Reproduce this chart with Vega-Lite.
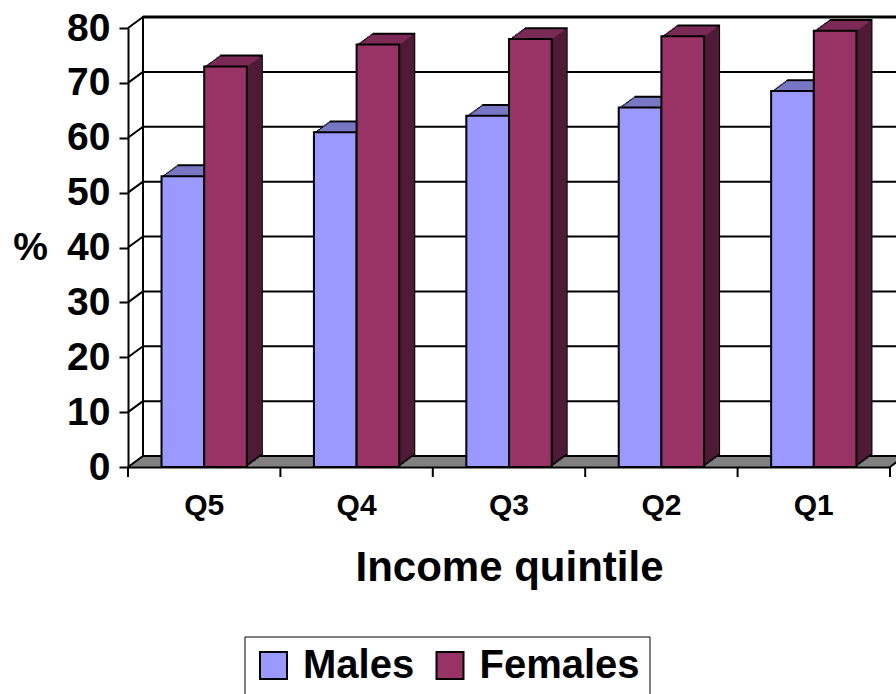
{
"$schema": "https://vega.github.io/schema/vega-lite/v6.json",
"width": 762, "height": 439,
"autosize": {"type": "none"},
"padding": {"left": 128, "top": 28, "right": 6, "bottom": 227},
"config": {"font": "Liberation Sans", "view": {"stroke": null}},
"resolve": {"axis": {"x": "independent", "y": "independent"}},
"datasets": {
 "bars": [
  {"quintile": "Q5", "series": "Males", "value": 53},
  {"quintile": "Q5", "series": "Females", "value": 73},
  {"quintile": "Q4", "series": "Males", "value": 61},
  {"quintile": "Q4", "series": "Females", "value": 77},
  {"quintile": "Q3", "series": "Males", "value": 64},
  {"quintile": "Q3", "series": "Females", "value": 78},
  {"quintile": "Q2", "series": "Males", "value": 65.5},
  {"quintile": "Q2", "series": "Females", "value": 78.5},
  {"quintile": "Q1", "series": "Males", "value": 68.5},
  {"quintile": "Q1", "series": "Females", "value": 79.5}
 ],
 "levels": [{"v": 0},{"v": 10},{"v": 20},{"v": 30},{"v": 40},{"v": 50},{"v": 60},{"v": 70},{"v": 80}],
 "floor": [{"v": 0}],
 "cats": [{"quintile": "Q5"},{"quintile": "Q4"},{"quintile": "Q3"},{"quintile": "Q2"},{"quintile": "Q1"}]
},
"layer": [
 {"data": {"name": "floor"}, "mark": {"type": "rule", "color": "#808080", "strokeWidth": 1.6, "xOffset": 0, "x2Offset": 0, "yOffset": 0},
  "encoding": {"x": {"datum": "Q5", "bandPosition": -0.3929, "scale": {"type": "band", "domain": ["Q5","Q4","Q3","Q2","Q1"], "paddingInner": 0.44, "paddingOuter": 0.22}, "axis": null},
   "x2": {"datum": "Q1", "bandPosition": 1.3929}, "y": {"field": "v", "type": "quantitative", "axis": null}}},
 {"data": {"name": "floor"}, "mark": {"type": "rule", "color": "#808080", "strokeWidth": 1.6, "xOffset": 1.5, "x2Offset": 1.5, "yOffset": -1.1},
  "encoding": {"x": {"datum": "Q5", "bandPosition": -0.3929, "axis": null}, "x2": {"datum": "Q1", "bandPosition": 1.3929}, "y": {"field": "v", "type": "quantitative", "axis": null}}},
 {"data": {"name": "floor"}, "mark": {"type": "rule", "color": "#808080", "strokeWidth": 1.6, "xOffset": 3, "x2Offset": 3, "yOffset": -2.2},
  "encoding": {"x": {"datum": "Q5", "bandPosition": -0.3929, "axis": null}, "x2": {"datum": "Q1", "bandPosition": 1.3929}, "y": {"field": "v", "type": "quantitative", "axis": null}}},
 {"data": {"name": "floor"}, "mark": {"type": "rule", "color": "#808080", "strokeWidth": 1.6, "xOffset": 4.5, "x2Offset": 4.5, "yOffset": -3.3},
  "encoding": {"x": {"datum": "Q5", "bandPosition": -0.3929, "axis": null}, "x2": {"datum": "Q1", "bandPosition": 1.3929}, "y": {"field": "v", "type": "quantitative", "axis": null}}},
 {"data": {"name": "floor"}, "mark": {"type": "rule", "color": "#808080", "strokeWidth": 1.6, "xOffset": 6, "x2Offset": 6, "yOffset": -4.4},
  "encoding": {"x": {"datum": "Q5", "bandPosition": -0.3929, "axis": null}, "x2": {"datum": "Q1", "bandPosition": 1.3929}, "y": {"field": "v", "type": "quantitative", "axis": null}}},
 {"data": {"name": "floor"}, "mark": {"type": "rule", "color": "#808080", "strokeWidth": 1.6, "xOffset": 7.5, "x2Offset": 7.5, "yOffset": -5.5},
  "encoding": {"x": {"datum": "Q5", "bandPosition": -0.3929, "axis": null}, "x2": {"datum": "Q1", "bandPosition": 1.3929}, "y": {"field": "v", "type": "quantitative", "axis": null}}},
 {"data": {"name": "floor"}, "mark": {"type": "rule", "color": "#808080", "strokeWidth": 1.6, "xOffset": 9, "x2Offset": 9, "yOffset": -6.6},
  "encoding": {"x": {"datum": "Q5", "bandPosition": -0.3929, "axis": null}, "x2": {"datum": "Q1", "bandPosition": 1.3929}, "y": {"field": "v", "type": "quantitative", "axis": null}}},
 {"data": {"name": "floor"}, "mark": {"type": "rule", "color": "#808080", "strokeWidth": 1.6, "xOffset": 10.5, "x2Offset": 10.5, "yOffset": -7.7},
  "encoding": {"x": {"datum": "Q5", "bandPosition": -0.3929, "axis": null}, "x2": {"datum": "Q1", "bandPosition": 1.3929}, "y": {"field": "v", "type": "quantitative", "axis": null}}},
 {"data": {"name": "floor"}, "mark": {"type": "rule", "color": "#808080", "strokeWidth": 1.6, "xOffset": 12, "x2Offset": 12, "yOffset": -8.8},
  "encoding": {"x": {"datum": "Q5", "bandPosition": -0.3929, "axis": null}, "x2": {"datum": "Q1", "bandPosition": 1.3929}, "y": {"field": "v", "type": "quantitative", "axis": null}}},
 {"data": {"name": "floor"}, "mark": {"type": "rule", "color": "#808080", "strokeWidth": 1.6, "xOffset": 13.5, "x2Offset": 13.5, "yOffset": -9.9},
  "encoding": {"x": {"datum": "Q5", "bandPosition": -0.3929, "axis": null}, "x2": {"datum": "Q1", "bandPosition": 1.3929}, "y": {"field": "v", "type": "quantitative", "axis": null}}},
 {"data": {"name": "levels"}, "mark": {"type": "rule", "color": "black", "xOffset": 15, "x2Offset": 15, "yOffset": -11},
  "encoding": {"x": {"datum": "Q5", "bandPosition": -0.3929, "axis": null}, "x2": {"datum": "Q1", "bandPosition": 1.5}, "y": {"field": "v", "type": "quantitative", "axis": null},
   "strokeWidth": {"condition": {"test": "datum.v === 80", "value": 3}, "value": 2}}},
 {"data": {"name": "floor"}, "mark": {"type": "rule", "color": "black", "strokeWidth": 2, "xOffset": 15, "yOffset": -11, "y2Offset": -12},
  "encoding": {"x": {"datum": "Q5", "bandPosition": -0.3929, "axis": null}, "y": {"datum": 0, "type": "quantitative", "axis": null}, "y2": {"datum": 80}}},
 {"data": {"name": "levels"}, "mark": {"type": "rule", "color": "black", "strokeWidth": 2, "x2Offset": 15, "y2Offset": -11},
  "encoding": {"x": {"datum": "Q5", "bandPosition": -0.3929, "axis": null}, "x2": {"datum": "Q5", "bandPosition": -0.3929}, "y": {"field": "v", "type": "quantitative", "axis": null}, "y2": {"field": "v"}}},
 {"data": {"name": "floor"}, "mark": {"type": "rule", "color": "black", "strokeWidth": 2, "x2Offset": 15, "y2Offset": -11},
  "encoding": {"x": {"datum": "Q1", "bandPosition": 1.3929, "axis": null}, "x2": {"datum": "Q1", "bandPosition": 1.3929}, "y": {"field": "v", "type": "quantitative", "axis": null}, "y2": {"field": "v"}}},
 {"data": {"name": "cats"}, "mark": {"type": "rule", "color": "black", "strokeWidth": 2, "y2Offset": 10},
  "encoding": {"x": {"field": "quintile", "type": "nominal", "bandPosition": -0.3929, "axis": null}, "y": {"datum": 0, "type": "quantitative", "axis": null}, "y2": {"datum": 0}}},
 {"data": {"name": "floor"}, "mark": {"type": "rule", "color": "black", "strokeWidth": 2, "y2Offset": 10},
  "encoding": {"x": {"datum": "Q1", "bandPosition": 1.3929, "axis": null}, "y": {"field": "v", "type": "quantitative", "axis": null}, "y2": {"field": "v"}}},
 {"data": {"name": "bars"},
  "resolve": {"scale": {"xOffset": "independent"}},
  "encoding": {
   "x": {"field": "quintile", "type": "nominal", "scale": {"type": "band", "domain": ["Q5","Q4","Q3","Q2","Q1"], "paddingInner": 0.44, "paddingOuter": 0.22},
    "axis": {"orient": "bottom", "title": "Income quintile", "zindex": 1, "grid": false, "domainColor": "black", "domainWidth": 2, "ticks": false, "tickSize": 0, "bandPosition": 0.5,
     "labelFontSize": 30, "labelFontWeight": "bold", "labelColor": "black", "labelPadding": 23, "labelAngle": 0, "labelAlign": "center",
     "titleFontSize": 42, "titleFontWeight": "bold", "titleColor": "black", "titleY": 113, "titleBaseline": "alphabetic"}},
   "y": {"field": "value", "type": "quantitative", "scale": {"domain": [0, 80], "nice": false},
    "axis": {"orient": "left", "title": "%", "zindex": 1, "grid": false, "values": [0,10,20,30,40,50,60,70,80], "domainColor": "black", "domainWidth": 2, "tickColor": "black", "tickWidth": 2, "tickSize": 9,
     "labelFontSize": 39, "labelFontWeight": "bold", "labelColor": "black", "labelPadding": 9,
     "titleFontSize": 39, "titleFontWeight": "bold", "titleColor": "black", "titleAngle": 0, "titleX": -98, "titleY": 219, "titleAlign": "center", "titleBaseline": "middle"}}
  },
  "layer": [
   {"mark": {"type": "bar", "fill": "black", "yOffset": -1.1, "y2Offset": -1.1}, "encoding": {"y2": {"datum": 0}, "xOffset": {"field": "series", "type": "nominal", "scale": {"type": "band", "domain": ["Males","Females"], "range": [1.5, 86.844], "paddingInner": 0, "paddingOuter": 0}}}},
   {"mark": {"type": "bar", "fill": "black", "yOffset": -2.2, "y2Offset": -2.2}, "encoding": {"y2": {"datum": 0}, "xOffset": {"field": "series", "type": "nominal", "scale": {"type": "band", "domain": ["Males","Females"], "range": [3, 88.344], "paddingInner": 0, "paddingOuter": 0}}}},
   {"mark": {"type": "bar", "fill": "black", "yOffset": -3.3, "y2Offset": -3.3}, "encoding": {"y2": {"datum": 0}, "xOffset": {"field": "series", "type": "nominal", "scale": {"type": "band", "domain": ["Males","Females"], "range": [4.5, 89.844], "paddingInner": 0, "paddingOuter": 0}}}},
   {"mark": {"type": "bar", "fill": "black", "yOffset": -4.4, "y2Offset": -4.4}, "encoding": {"y2": {"datum": 0}, "xOffset": {"field": "series", "type": "nominal", "scale": {"type": "band", "domain": ["Males","Females"], "range": [6, 91.344], "paddingInner": 0, "paddingOuter": 0}}}},
   {"mark": {"type": "bar", "fill": "black", "yOffset": -5.5, "y2Offset": -5.5}, "encoding": {"y2": {"datum": 0}, "xOffset": {"field": "series", "type": "nominal", "scale": {"type": "band", "domain": ["Males","Females"], "range": [7.5, 92.844], "paddingInner": 0, "paddingOuter": 0}}}},
   {"mark": {"type": "bar", "fill": "black", "yOffset": -6.6, "y2Offset": -6.6}, "encoding": {"y2": {"datum": 0}, "xOffset": {"field": "series", "type": "nominal", "scale": {"type": "band", "domain": ["Males","Females"], "range": [9, 94.344], "paddingInner": 0, "paddingOuter": 0}}}},
   {"mark": {"type": "bar", "fill": "black", "yOffset": -7.7, "y2Offset": -7.7}, "encoding": {"y2": {"datum": 0}, "xOffset": {"field": "series", "type": "nominal", "scale": {"type": "band", "domain": ["Males","Females"], "range": [10.5, 95.844], "paddingInner": 0, "paddingOuter": 0}}}},
   {"mark": {"type": "bar", "fill": "black", "yOffset": -8.8, "y2Offset": -8.8}, "encoding": {"y2": {"datum": 0}, "xOffset": {"field": "series", "type": "nominal", "scale": {"type": "band", "domain": ["Males","Females"], "range": [12, 97.344], "paddingInner": 0, "paddingOuter": 0}}}},
   {"mark": {"type": "bar", "fill": "black", "yOffset": -9.9, "y2Offset": -9.9}, "encoding": {"y2": {"datum": 0}, "xOffset": {"field": "series", "type": "nominal", "scale": {"type": "band", "domain": ["Males","Females"], "range": [13.5, 98.844], "paddingInner": 0, "paddingOuter": 0}}}},
   {"mark": {"type": "bar", "fill": "black", "yOffset": -11, "y2Offset": -11}, "encoding": {"y2": {"datum": 0}, "xOffset": {"field": "series", "type": "nominal", "scale": {"type": "band", "domain": ["Males","Females"], "range": [15, 100.344], "paddingInner": 0, "paddingOuter": 0}}}},
   {"mark": {"type": "bar", "fill": "black", "yOffset": -11.8, "y2Offset": -11.8}, "encoding": {"y2": {"datum": 0}, "xOffset": {"field": "series", "type": "nominal", "scale": {"type": "band", "domain": ["Males","Females"], "range": [16, 101.344], "paddingInner": 0, "paddingOuter": 0}}}},

   {"mark": {"type": "bar", "width": {"band": 0.93}, "yOffset": 0.4, "y2Offset": -3.1}, "encoding": {"y2": {"datum": 0}, "xOffset": {"field": "series", "type": "nominal", "scale": {"type": "band", "domain": ["Males","Females"], "range": [1.5, 86.844], "paddingInner": 0, "paddingOuter": 0}}, "fill": {"condition": {"test": "datum.series === 'Males'", "value": "#4d4d80"}, "value": "#4e1a36"}}},
   {"mark": {"type": "bar", "width": {"band": 0.93}, "yOffset": -0.7, "y2Offset": -4.2}, "encoding": {"y2": {"datum": 0}, "xOffset": {"field": "series", "type": "nominal", "scale": {"type": "band", "domain": ["Males","Females"], "range": [3, 88.344], "paddingInner": 0, "paddingOuter": 0}}, "fill": {"condition": {"test": "datum.series === 'Males'", "value": "#4d4d80"}, "value": "#4e1a36"}}},
   {"mark": {"type": "bar", "width": {"band": 0.93}, "yOffset": -1.8, "y2Offset": -5.3}, "encoding": {"y2": {"datum": 0}, "xOffset": {"field": "series", "type": "nominal", "scale": {"type": "band", "domain": ["Males","Females"], "range": [4.5, 89.844], "paddingInner": 0, "paddingOuter": 0}}, "fill": {"condition": {"test": "datum.series === 'Males'", "value": "#4d4d80"}, "value": "#4e1a36"}}},
   {"mark": {"type": "bar", "width": {"band": 0.93}, "yOffset": -2.9, "y2Offset": -6.4}, "encoding": {"y2": {"datum": 0}, "xOffset": {"field": "series", "type": "nominal", "scale": {"type": "band", "domain": ["Males","Females"], "range": [6, 91.344], "paddingInner": 0, "paddingOuter": 0}}, "fill": {"condition": {"test": "datum.series === 'Males'", "value": "#4d4d80"}, "value": "#4e1a36"}}},
   {"mark": {"type": "bar", "width": {"band": 0.93}, "yOffset": -4.0, "y2Offset": -7.5}, "encoding": {"y2": {"datum": 0}, "xOffset": {"field": "series", "type": "nominal", "scale": {"type": "band", "domain": ["Males","Females"], "range": [7.5, 92.844], "paddingInner": 0, "paddingOuter": 0}}, "fill": {"condition": {"test": "datum.series === 'Males'", "value": "#4d4d80"}, "value": "#4e1a36"}}},
   {"mark": {"type": "bar", "width": {"band": 0.93}, "yOffset": -5.1, "y2Offset": -8.6}, "encoding": {"y2": {"datum": 0}, "xOffset": {"field": "series", "type": "nominal", "scale": {"type": "band", "domain": ["Males","Females"], "range": [9, 94.344], "paddingInner": 0, "paddingOuter": 0}}, "fill": {"condition": {"test": "datum.series === 'Males'", "value": "#4d4d80"}, "value": "#4e1a36"}}},
   {"mark": {"type": "bar", "width": {"band": 0.93}, "yOffset": -6.2, "y2Offset": -9.7}, "encoding": {"y2": {"datum": 0}, "xOffset": {"field": "series", "type": "nominal", "scale": {"type": "band", "domain": ["Males","Females"], "range": [10.5, 95.844], "paddingInner": 0, "paddingOuter": 0}}, "fill": {"condition": {"test": "datum.series === 'Males'", "value": "#4d4d80"}, "value": "#4e1a36"}}},
   {"mark": {"type": "bar", "width": {"band": 0.93}, "yOffset": -7.3, "y2Offset": -10.8}, "encoding": {"y2": {"datum": 0}, "xOffset": {"field": "series", "type": "nominal", "scale": {"type": "band", "domain": ["Males","Females"], "range": [12, 97.344], "paddingInner": 0, "paddingOuter": 0}}, "fill": {"condition": {"test": "datum.series === 'Males'", "value": "#4d4d80"}, "value": "#4e1a36"}}},
   {"mark": {"type": "bar", "width": {"band": 0.93}, "yOffset": -8.4, "y2Offset": -11.9}, "encoding": {"y2": {"datum": 0}, "xOffset": {"field": "series", "type": "nominal", "scale": {"type": "band", "domain": ["Males","Females"], "range": [13.5, 98.844], "paddingInner": 0, "paddingOuter": 0}}, "fill": {"condition": {"test": "datum.series === 'Males'", "value": "#4d4d80"}, "value": "#4e1a36"}}},
   {"mark": {"type": "bar", "width": {"band": 0.93}, "yOffset": -9.5, "y2Offset": -13}, "encoding": {"y2": {"datum": 0}, "xOffset": {"field": "series", "type": "nominal", "scale": {"type": "band", "domain": ["Males","Females"], "range": [15, 100.344], "paddingInner": 0, "paddingOuter": 0}}, "fill": {"condition": {"test": "datum.series === 'Males'", "value": "#4d4d80"}, "value": "#4e1a36"}}},

   {"mark": {"type": "bar", "width": {"band": 0.93}, "yOffset": -1, "y2Offset": 1}, "encoding": {"y2": {"field": "value"}, "xOffset": {"field": "series", "type": "nominal", "scale": {"type": "band", "domain": ["Males","Females"], "range": [0, 85.344], "paddingInner": 0, "paddingOuter": 0}}, "fill": {"condition": {"test": "datum.series === 'Males'", "value": "#7777c4"}, "value": "#7b2a56"}}},
   {"mark": {"type": "bar", "width": {"band": 0.93}, "yOffset": -2.1, "y2Offset": -0.1}, "encoding": {"y2": {"field": "value"}, "xOffset": {"field": "series", "type": "nominal", "scale": {"type": "band", "domain": ["Males","Females"], "range": [1.5, 86.844], "paddingInner": 0, "paddingOuter": 0}}, "fill": {"condition": {"test": "datum.series === 'Males'", "value": "#7777c4"}, "value": "#7b2a56"}}},
   {"mark": {"type": "bar", "width": {"band": 0.93}, "yOffset": -3.2, "y2Offset": -1.2}, "encoding": {"y2": {"field": "value"}, "xOffset": {"field": "series", "type": "nominal", "scale": {"type": "band", "domain": ["Males","Females"], "range": [3, 88.344], "paddingInner": 0, "paddingOuter": 0}}, "fill": {"condition": {"test": "datum.series === 'Males'", "value": "#7777c4"}, "value": "#7b2a56"}}},
   {"mark": {"type": "bar", "width": {"band": 0.93}, "yOffset": -4.3, "y2Offset": -2.3}, "encoding": {"y2": {"field": "value"}, "xOffset": {"field": "series", "type": "nominal", "scale": {"type": "band", "domain": ["Males","Females"], "range": [4.5, 89.844], "paddingInner": 0, "paddingOuter": 0}}, "fill": {"condition": {"test": "datum.series === 'Males'", "value": "#7777c4"}, "value": "#7b2a56"}}},
   {"mark": {"type": "bar", "width": {"band": 0.93}, "yOffset": -5.4, "y2Offset": -3.4}, "encoding": {"y2": {"field": "value"}, "xOffset": {"field": "series", "type": "nominal", "scale": {"type": "band", "domain": ["Males","Females"], "range": [6, 91.344], "paddingInner": 0, "paddingOuter": 0}}, "fill": {"condition": {"test": "datum.series === 'Males'", "value": "#7777c4"}, "value": "#7b2a56"}}},
   {"mark": {"type": "bar", "width": {"band": 0.93}, "yOffset": -6.5, "y2Offset": -4.5}, "encoding": {"y2": {"field": "value"}, "xOffset": {"field": "series", "type": "nominal", "scale": {"type": "band", "domain": ["Males","Females"], "range": [7.5, 92.844], "paddingInner": 0, "paddingOuter": 0}}, "fill": {"condition": {"test": "datum.series === 'Males'", "value": "#7777c4"}, "value": "#7b2a56"}}},
   {"mark": {"type": "bar", "width": {"band": 0.93}, "yOffset": -7.6, "y2Offset": -5.6}, "encoding": {"y2": {"field": "value"}, "xOffset": {"field": "series", "type": "nominal", "scale": {"type": "band", "domain": ["Males","Females"], "range": [9, 94.344], "paddingInner": 0, "paddingOuter": 0}}, "fill": {"condition": {"test": "datum.series === 'Males'", "value": "#7777c4"}, "value": "#7b2a56"}}},
   {"mark": {"type": "bar", "width": {"band": 0.93}, "yOffset": -8.7, "y2Offset": -6.7}, "encoding": {"y2": {"field": "value"}, "xOffset": {"field": "series", "type": "nominal", "scale": {"type": "band", "domain": ["Males","Females"], "range": [10.5, 95.844], "paddingInner": 0, "paddingOuter": 0}}, "fill": {"condition": {"test": "datum.series === 'Males'", "value": "#7777c4"}, "value": "#7b2a56"}}},
   {"mark": {"type": "bar", "width": {"band": 0.93}, "yOffset": -9.8, "y2Offset": -7.8}, "encoding": {"y2": {"field": "value"}, "xOffset": {"field": "series", "type": "nominal", "scale": {"type": "band", "domain": ["Males","Females"], "range": [12, 97.344], "paddingInner": 0, "paddingOuter": 0}}, "fill": {"condition": {"test": "datum.series === 'Males'", "value": "#7777c4"}, "value": "#7b2a56"}}},

   {"mark": {"type": "bar", "stroke": "black", "strokeWidth": 2},
    "encoding": {"xOffset": {"field": "series", "type": "nominal", "scale": {"type": "band", "domain": ["Males","Females"], "range": [0, 85.344], "paddingInner": 0, "paddingOuter": 0}},
     "fill": {"field": "series", "type": "nominal", "scale": {"domain": ["Males","Females"], "range": ["#9999ff","#993366"]},
      "legend": {"orient": "none", "legendX": 116.5, "legendY": 608.5, "direction": "horizontal", "title": null, "strokeColor": "black", "padding": 9,
       "symbolType": "square", "symbolSize": 729, "symbolStrokeColor": "black", "symbolStrokeWidth": 2, "symbolOpacity": 1,
       "labelFontSize": 40, "labelFont": "Liberation Sans", "labelFontWeight": "bold", "labelColor": "black", "labelOffset": 9.5, "columnPadding": 15.5, "labelLimit": 400}}}}
  ]
 }
]
}
